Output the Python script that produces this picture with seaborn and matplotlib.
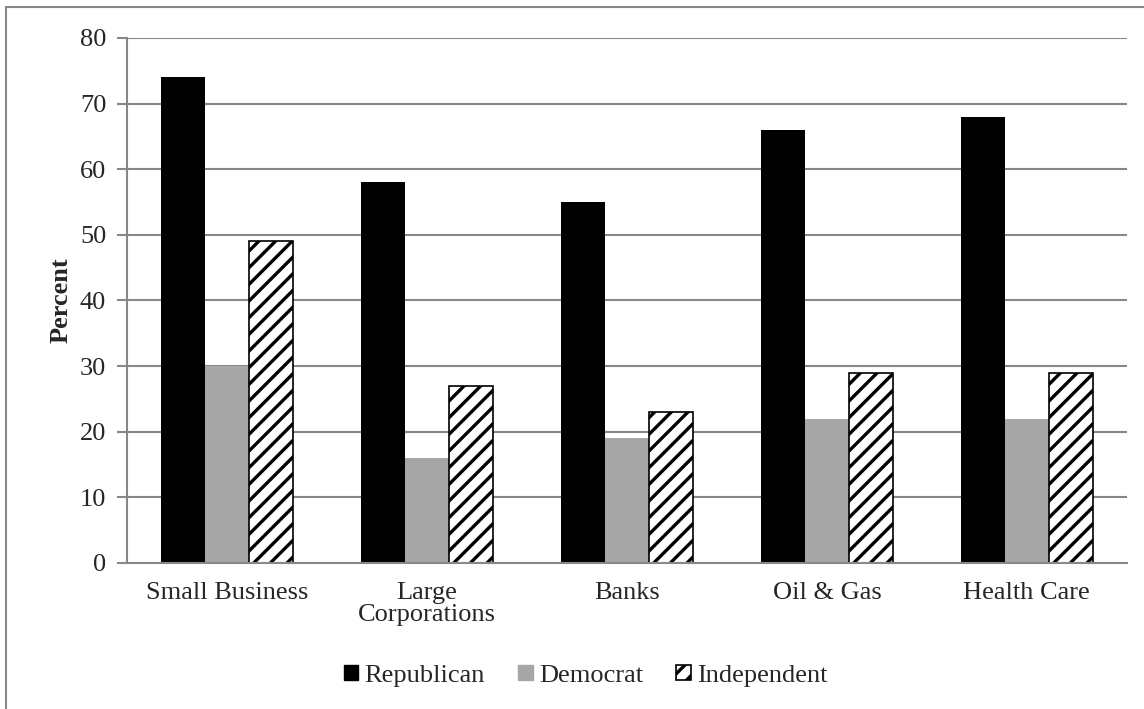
import matplotlib
matplotlib.use("Agg")
import matplotlib.pyplot as plt
from matplotlib.patches import Rectangle, Patch
import seaborn as sns
import pandas as pd

# Survey results by sector and party identification
sectors = ["Small Business", "Large\nCorporations", "Banks", "Oil & Gas", "Health Care"]
parties = ["Republican", "Democrat", "Independent"]
republican = [74, 58, 55, 66, 68]
democrat = [30, 16, 19, 22, 22]
independent = [49, 27, 23, 29, 29]
y_ticks = [0, 10, 20, 30, 40, 50, 60, 70, 80]

df = pd.DataFrame({
    "Sector": sectors * 3,
    "Party": [p for p in parties for _ in sectors],
    "Percent": republican + democrat + independent,
})

sns.set_style("white")
plt.rcParams["font.family"] = ["Liberation Serif", "DejaVu Serif"]
plt.rcParams["hatch.linewidth"] = 2.4
plt.rcParams["hatch.color"] = "black"

FS = 19
fig = plt.figure(figsize=(11.44, 7.09), dpi=100)
ax = fig.add_axes([0.111, 0.206, 0.874, 0.7405])

palette = {"Republican": "#000000", "Democrat": "#a6a6a6", "Independent": "#ffffff"}
sns.barplot(data=df, x="Sector", y="Percent", hue="Party", order=sectors,
            hue_order=parties, palette=palette, width=0.66, saturation=1,
            ax=ax, legend=False, linewidth=0, errorbar=None)

# Hatch the independent bars and give them a thin black outline
for container, party in zip(ax.containers, parties):
    for bar in container:
        if party == "Independent":
            bar.set_hatch("//")
            bar.set_edgecolor("black")
            bar.set_linewidth(1.2)
        else:
            bar.set_edgecolor(palette[party])
            bar.set_linewidth(0)

grid_col = "#888888"
ax.set_ylim(0, 80)
ax.set_xlim(-0.5, len(sectors) - 0.5)
ax.set_yticks(y_ticks)
ax.yaxis.grid(True, color=grid_col, linewidth=1.5)
ax.set_axisbelow(True)

for side in ["top", "right"]:
    ax.spines[side].set_visible(False)
for side in ["left", "bottom"]:
    ax.spines[side].set_color(grid_col)
    ax.spines[side].set_linewidth(1.5)

# Category separators as ticks on the x axis
ax.set_xticks([i - 0.5 for i in range(len(sectors) + 1)], minor=True)
ax.tick_params(axis="x", which="minor", length=7, width=1.5, color=grid_col, direction="out")
ax.tick_params(axis="x", which="major", length=0, pad=14, labelsize=FS)
ax.tick_params(axis="y", length=7, width=1.5, color=grid_col, direction="out",
               labelsize=FS, pad=8, left=True)
ax.set_xticklabels(sectors, linespacing=1.0)

ax.set_xlabel("")
ax.set_ylabel("Percent", fontsize=FS, fontweight="bold", labelpad=5)

handles = [
    Patch(facecolor="#000000", edgecolor="#000000"),
    Patch(facecolor="#a6a6a6", edgecolor="#a6a6a6"),
    Patch(facecolor="#ffffff", edgecolor="black", hatch="//", linewidth=1.2),
]
fig.legend(handles, parties, loc="center", bbox_to_anchor=(0.512, 0.047), ncol=3,
           frameon=False, fontsize=FS, handlelength=0.55, handleheight=0.55,
           handletextpad=0.25, columnspacing=1.25)

# Outer chart border
fig.patches.append(Rectangle((6 / 1144, -0.05), 1.2, 1 - 7 / 709 + 0.05,
                             transform=fig.transFigure, fill=False,
                             edgecolor=grid_col, linewidth=1.5))

fig.savefig("out.png", dpi=100)
